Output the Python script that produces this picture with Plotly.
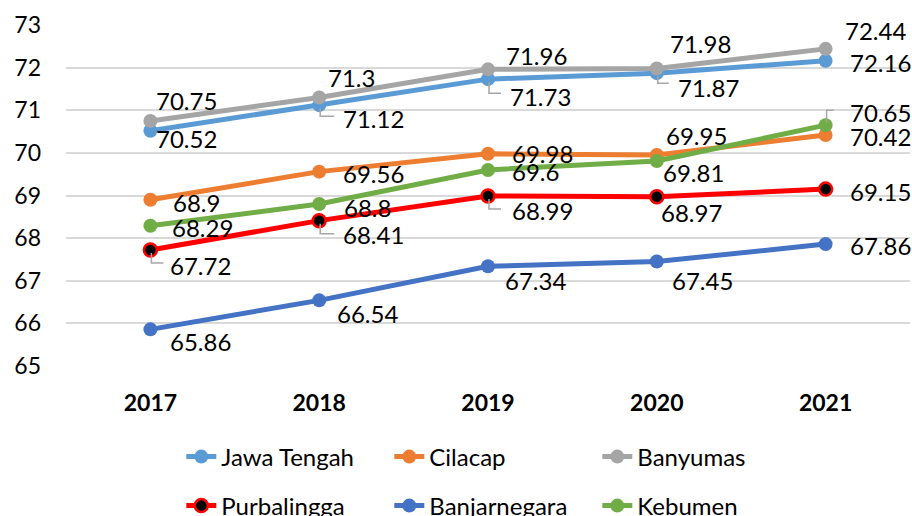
import plotly.graph_objects as go

years = [2017, 2018, 2019, 2020, 2021]
jawa_tengah = [70.52, 71.12, 71.73, 71.87, 72.16]
cilacap = [68.9, 69.56, 69.98, 69.95, 70.42]
banyumas = [70.75, 71.3, 71.96, 71.98, 72.44]
purbalingga = [67.72, 68.41, 68.99, 68.97, 69.15]
banjarnegara = [65.86, 66.54, 67.34, 67.45, 67.86]
kebumen = [68.29, 68.8, 69.6, 69.81, 70.65]
y_ticks = [65, 66, 67, 68, 69, 70, 71, 72, 73]

FONT = "Lato"

series = [
    ("Jawa Tengah", jawa_tengah, "#5B9BD5", None, "legend"),
    ("Cilacap", cilacap, "#ED7D31", None, "legend"),
    ("Banyumas", banyumas, "#A5A5A5", None, "legend"),
    ("Purbalingga", purbalingga, "#FF0000", "black", "legend2"),
    ("Banjarnegara", banjarnegara, "#4472C4", None, "legend2"),
    ("Kebumen", kebumen, "#70AD47", None, "legend2"),
]

# label offsets (pixels: dx right, dy down) per series / point  -- styling only
offsets = {
    "Jawa Tengah": [(36, 8), (54, 13), (52, 17), (52, 14), (55, 2)],
    "Cilacap": [(46, 3), (54, 2), (54, 0), (40, -20), (55, 2)],
    "Banyumas": [(36, -20), (32, -20), (48, -14), (44, -25), (50, -18)],
    "Purbalingga": [(50, 15), (54, 14), (54, 15), (35, 16), (55, 2)],
    "Banjarnegara": [(50, 12), (48, 13), (47, 14), (46, 19), (55, 1)],
    "Kebumen": [(52, 2), (48, 3), (47, 2), (37, 12), (55, -13)],
}
# leader lines: (series, index, vertical px (down +), horizontal px)
leaders = [
    ("Jawa Tengah", 1, 11, 15),
    ("Jawa Tengah", 2, 14, 13),
    ("Jawa Tengah", 3, 10, 12),
    ("Kebumen", 4, -15, 8),
    ("Purbalingga", 0, 13, 13),
    ("Purbalingga", 1, 13, 15),
    ("Purbalingga", 2, 13, 13),
]

fig = go.Figure()
data_map = {}
for name, vals, color, mfill, leg in series:
    data_map[name] = vals
    marker = dict(size=14, color=color)
    if mfill:
        marker = dict(size=13, color=mfill, line=dict(color=color, width=2.5))
    fig.add_trace(go.Scatter(
        x=years, y=vals, name=name, mode="lines+markers",
        line=dict(color=color, width=5), marker=marker, legend=leg,
        hoverinfo="skip",
    ))

annotations = []
for name, vals, color, mfill, leg in series:
    for i, v in enumerate(vals):
        dx, dy = offsets[name][i]
        annotations.append(dict(
            x=years[i], y=v, xref="x", yref="y", text=str(v), showarrow=False,
            xshift=dx, yshift=-dy, xanchor="center", yanchor="middle",
            font=dict(family=FONT, size=24, color="black"),
        ))

shapes = []
for name, i, vy, hx in leaders:
    v = data_map[name][i]
    sgn = 1 if vy > 0 else -1
    path = f"M 1,{-sgn*3} L 1,{-vy} L {hx},{-vy}"
    shapes.append(dict(
        type="path", xref="x", yref="y", xsizemode="pixel", ysizemode="pixel",
        xanchor=years[i], yanchor=v, path=path,
        line=dict(color="#A6A6A6", width=1.5), layer="above",
    ))

fig.update_layout(
    width=912, height=516,
    margin=dict(l=66, r=2, t=25, b=150),
    paper_bgcolor="white", plot_bgcolor="white",
    font=dict(family=FONT, size=22, color="black"),
    xaxis=dict(
        range=[2016.5, 2021.5], tickvals=years, showgrid=False, showline=False,
        zeroline=False, automargin=False,
        ticks="", tickfont=dict(family=FONT, size=23, color="black", weight="bold"),
        ticklabelstandoff=21,
    ),
    yaxis=dict(
        range=[65, 73], tickvals=y_ticks, showgrid=True, gridcolor="#D9D9D9",
        gridwidth=1.5, zeroline=False, showline=False, ticks="", automargin=False,
        tickfont=dict(family=FONT, size=23, color="black"),
        ticklabelstandoff=24,
    ),
    legend=dict(
        orientation="h", xref="container", yref="container", x=0.1988, y=59/516,
        xanchor="left", yanchor="middle", entrywidth=163, entrywidthmode="pixels",
        font=dict(family=FONT, size=24, color="black"), bgcolor="rgba(0,0,0,0)",
    ),
    legend2=dict(
        orientation="h", xref="container", yref="container", x=0.1988, y=10/516,
        xanchor="left", yanchor="middle", entrywidth=163, entrywidthmode="pixels",
        font=dict(family=FONT, size=24, color="black"), bgcolor="rgba(0,0,0,0)",
    ),
    annotations=annotations,
    shapes=shapes,
    showlegend=True,
)

fig.write_html("out.html", config={"displayModeBar": False},
               post_script="document.body.style.margin='0px';")
